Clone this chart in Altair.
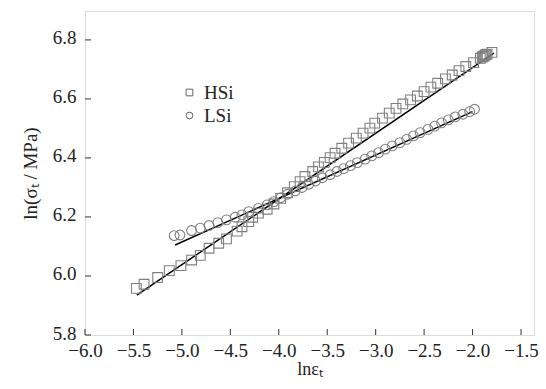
import altair as alt
import pandas as pd

# HSi data (ln strain, ln stress)
hsi_x = [-5.47, -5.39, -5.25, -5.13, -5.01, -4.90, -4.81, -4.72, -4.62, -4.54, -4.43, -4.38,
         -4.31, -4.27, -4.21, -4.12, -4.05, -3.98, -3.91, -3.84, -3.78, -3.73, -3.65, -3.59,
         -3.53, -3.47, -3.42, -3.35, -3.28, -3.20, -3.13, -3.06, -3.01, -2.93, -2.86, -2.79,
         -2.72, -2.64, -2.57, -2.50, -2.43, -2.36, -2.28, -2.21, -2.14, -2.07, -1.99, -1.92,
         -1.90, -1.89, -1.88, -1.87, -1.86, -1.85, -1.80]
hsi_y = [5.958, 5.972, 5.995, 6.018, 6.035, 6.054, 6.070, 6.094, 6.111, 6.126, 6.152, 6.167,
         6.184, 6.199, 6.213, 6.226, 6.244, 6.263, 6.282, 6.303, 6.320, 6.337, 6.354, 6.370,
         6.385, 6.401, 6.416, 6.433, 6.450, 6.467, 6.484, 6.501, 6.518, 6.535, 6.552, 6.568,
         6.583, 6.597, 6.610, 6.625, 6.640, 6.653, 6.668, 6.681, 6.696, 6.710, 6.723, 6.738,
         6.742, 6.744, 6.746, 6.749, 6.750, 6.752, 6.758]

# LSi data
lsi_x = [-5.08, -5.02, -4.90, -4.81, -4.72, -4.63, -4.54, -4.45, -4.38, -4.31, -4.21, -4.12,
         -4.05, -3.98, -3.91, -3.83, -3.76, -3.69, -3.62, -3.55, -3.47, -3.40, -3.33, -3.26,
         -3.19, -3.11, -3.04, -2.97, -2.90, -2.83, -2.75, -2.68, -2.61, -2.54, -2.46, -2.39,
         -2.32, -2.25, -2.18, -2.10, -2.03, -1.98]
lsi_y = [6.137, 6.139, 6.154, 6.162, 6.171, 6.181, 6.190, 6.199, 6.207, 6.218, 6.229, 6.241,
         6.252, 6.265, 6.277, 6.288, 6.300, 6.311, 6.322, 6.333, 6.343, 6.354, 6.364, 6.374,
         6.384, 6.396, 6.407, 6.418, 6.430, 6.441, 6.452, 6.463, 6.475, 6.486, 6.497, 6.508,
         6.519, 6.529, 6.539, 6.548, 6.557, 6.565]

# Linear fit end points
fit_hsi_x = [-5.465, -1.78]
fit_hsi_y = [5.935, 6.755]
fit_lsi_x = [-5.07, -2.00]
fit_lsi_y = [6.105, 6.557]

x_ticks = [-6.0, -5.5, -5.0, -4.5, -4.0, -3.5, -3.0, -2.5, -2.0, -1.5]
y_ticks = [5.8, 6.0, 6.2, 6.4, 6.6, 6.8]

FONT = "Liberation Serif"
W, H = 449, 324

pts = pd.concat([
    pd.DataFrame({"x": hsi_x, "y": hsi_y, "s": "HSi"}),
    pd.DataFrame({"x": lsi_x, "y": lsi_y, "s": "LSi"}),
])
fits = pd.concat([
    pd.DataFrame({"x": fit_hsi_x, "y": fit_hsi_y, "s": "HSi"}),
    pd.DataFrame({"x": fit_lsi_x, "y": fit_lsi_y, "s": "LSi"}),
])

xs = alt.Scale(domain=[-6.0, -1.366], nice=False, zero=False)
ys = alt.Scale(domain=[5.8, 6.898], nice=False, zero=False)

xaxis = alt.Axis(values=x_ticks, format=".1f", ticks=False, grid=False, domain=False,
                 labelFont=FONT, labelFontSize=19, labelColor="#222", labelPadding=6,
                 title="lnεₜ", titleFont=FONT, titleFontSize=18, titleFontWeight="normal",
                 titleColor="#222", titlePadding=0, labelFlush=False)
yaxis = alt.Axis(values=y_ticks, format=".1f", ticks=False, grid=False, domain=False,
                 labelFont=FONT, labelFontSize=19, labelColor="#222", labelPadding=9,
                 labelOffset=-2,
                 title="ln(σₜ / MPa)", titleFont=FONT, titleFontSize=19,
                 titleFontWeight="normal", titleColor="#222", titlePadding=12, labelFlush=False)

scatter = alt.Chart(pts).mark_point(filled=False, color="#808080", strokeWidth=1.1, size=95, opacity=1).encode(
    x=alt.X("x:Q", scale=xs, axis=xaxis),
    y=alt.Y("y:Q", scale=ys, axis=yaxis),
    shape=alt.Shape("s:N", scale=alt.Scale(domain=["HSi", "LSi"], range=["square", "circle"]),
                    legend=alt.Legend(title=None, orient="none", legendX=95, legendY=72,
                                      labelFont=FONT, labelFontSize=19, labelColor="#222",
                                      symbolSize=45, symbolStrokeColor="#666", symbolStrokeWidth=1,
                                      symbolFillColor="transparent", rowPadding=3, labelOffset=5)),
)

lines = alt.Chart(fits).mark_line(color="black", strokeWidth=1.5).encode(
    x=alt.X("x:Q", scale=xs), y=alt.Y("y:Q", scale=ys), detail="s:N"
)

xt = alt.Chart(pd.DataFrame({"v": x_ticks})).mark_rule(color="#333", strokeWidth=1).encode(
    x=alt.X("v:Q", scale=xs), y=alt.value(H), y2=alt.value(H - 6)
)
yt = alt.Chart(pd.DataFrame({"v": y_ticks})).mark_rule(color="#333", strokeWidth=1).encode(
    y=alt.Y("v:Q", scale=ys), x=alt.value(0), x2=alt.value(6)
)

chart = alt.layer(xt, yt, lines, scatter).properties(
    width=W, height=H,
    autosize=alt.AutoSizeParams(type="none"),
    padding={"left": 77, "top": 3, "right": 4, "bottom": 46},
).configure_view(stroke="#222", strokeWidth=1.5).configure(background="white")

chart.save("out.html", embed_options={"renderer": "svg", "actions": False})
